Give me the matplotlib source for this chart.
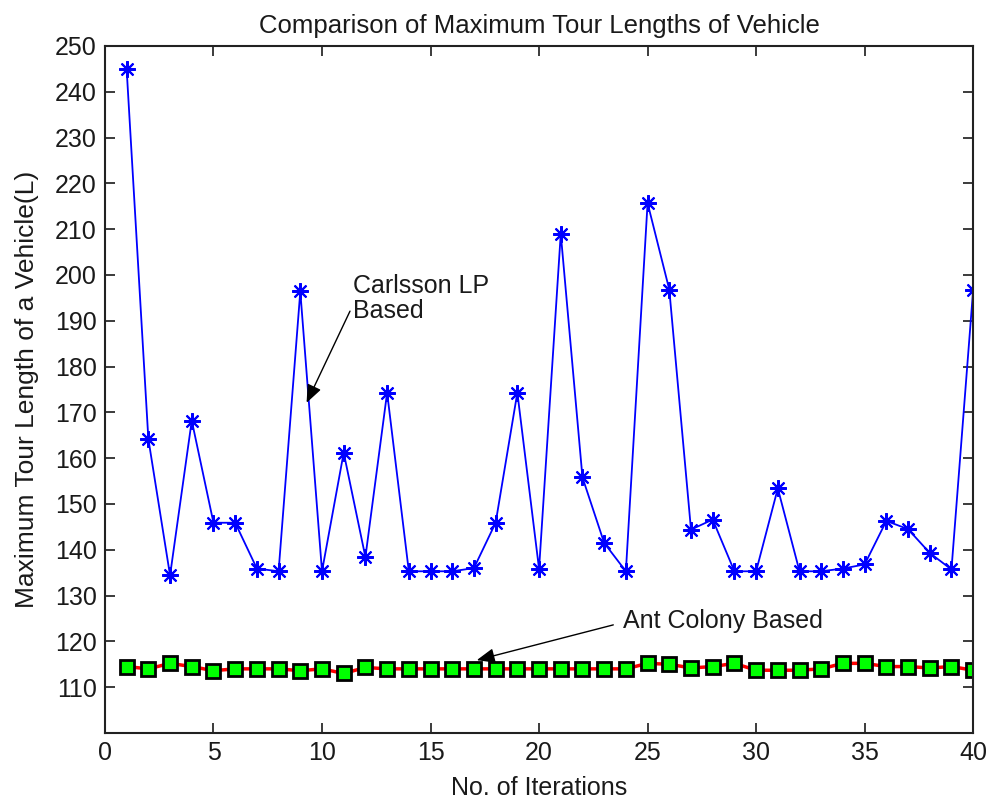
import matplotlib
matplotlib.use("Agg")
import matplotlib.pyplot as plt
import numpy as np

iterations = list(range(1, 41))
carlsson_lp = [244.9, 164.2, 134.4, 168.2, 145.9, 145.9, 135.9, 135.3, 196.4, 135.3,
               161.2, 138.4, 174.3, 135.3, 135.3, 135.3, 136.0, 145.9, 174.3, 135.8,
               209.0, 155.8, 141.5, 135.3, 215.7, 196.8, 144.4, 146.6, 135.3, 135.3,
               153.4, 135.3, 135.3, 135.9, 136.8, 146.3, 144.5, 139.3, 135.7, 196.8]
ant_colony = [114.5, 114.0, 115.2, 114.5, 113.6, 114.0, 114.0, 114.0, 113.6, 114.0,
              113.0, 114.3, 114.0, 114.0, 114.0, 114.0, 114.0, 114.0, 114.0, 114.0,
              114.0, 114.0, 114.0, 114.0, 115.2, 115.0, 114.2, 114.5, 115.2, 113.7,
              113.7, 113.7, 114.0, 115.2, 115.2, 114.5, 114.5, 114.2, 114.5, 113.7]
x_ticks = [0, 5, 10, 15, 20, 25, 30, 35, 40]
y_ticks = [110, 120, 130, 140, 150, 160, 170, 180, 190, 200, 210, 220, 230, 240, 250]

plt.rcParams['font.family'] = ['Liberation Sans', 'DejaVu Sans']

fig = plt.figure(figsize=(9.9, 8.06), dpi=100)
ax = fig.add_axes([0.106, 0.0906, 0.877, 0.8524])

ax.plot(iterations, carlsson_lp, color='#0000ff', lw=1.3, marker=(8, 2, 0),
        markersize=12, markeredgewidth=1.5, markeredgecolor='#0000ff')
ax.plot(iterations, ant_colony, color='#ff0000', lw=2.5, marker='s',
        markersize=10.5, markerfacecolor='#00ff00', markeredgecolor='black',
        markeredgewidth=2)

ax.set_xlim(0, 40)
ax.set_ylim(100, 250)
ax.set_xticks(x_ticks)
ax.set_yticks(y_ticks)
ax.tick_params(direction='in', length=7, width=1.2, top=True, right=True,
               labelsize=18, pad=6, colors='#1a1a1a')
for s in ax.spines.values():
    s.set_linewidth(1.5)
    s.set_color('#222222')

ax.set_title('Comparison of Maximum Tour Lengths of Vehicle', fontsize=18.5, pad=9,
             color='#1a1a1a')
ax.set_xlabel('No. of Iterations', fontsize=18, labelpad=8, color='#1a1a1a')
ax.set_ylabel('Maximum Tour Length of a Vehicle(L)', fontsize=19, labelpad=11,
              color='#1a1a1a')

arrow = dict(arrowstyle='-|>,head_length=1.1,head_width=0.45', color='black', lw=1,
             shrinkA=0, shrinkB=0)
ax.annotate('', xy=(9.29, 172.1), xytext=(11.29, 192.1), arrowprops=arrow)
ax.text(11.45, 200.3, 'Carlsson LP\nBased', fontsize=18, va='top', ha='left',
        linespacing=1.05, color='#1a1a1a')
ax.annotate('', xy=(17.13, 115.9), xytext=(23.42, 123.6), arrowprops=arrow)
ax.text(23.85, 124.5, 'Ant Colony Based', fontsize=18, va='center', ha='left',
        color='#1a1a1a')

fig.savefig('out.png', dpi=100)
